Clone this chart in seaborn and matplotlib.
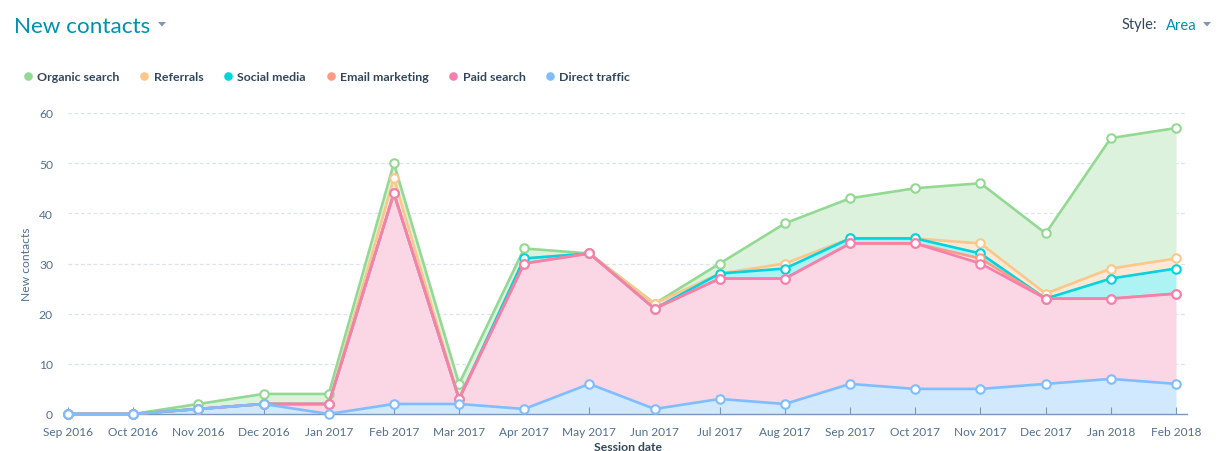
import matplotlib
matplotlib.use('Agg')
import matplotlib.pyplot as plt
from matplotlib.lines import Line2D
from matplotlib.patches import Polygon
import numpy as np
import pandas as pd
import seaborn as sns

months = ['Sep 2016', 'Oct 2016', 'Nov 2016', 'Dec 2016', 'Jan 2017', 'Feb 2017', 'Mar 2017', 'Apr 2017', 'May 2017',
          'Jun 2017', 'Jul 2017', 'Aug 2017', 'Sep 2017', 'Oct 2017', 'Nov 2017', 'Dec 2017', 'Jan 2018', 'Feb 2018']

# contacts per channel
direct_traffic = [0, 0, 1, 2, 0, 2, 2, 1, 6, 1, 3, 2, 6, 5, 5, 6, 7, 6]
paid_search = [0, 0, 0, 0, 2, 42, 1, 29, 26, 20, 24, 25, 28, 29, 25, 17, 16, 18]
email_marketing = [0, 0, 0, 0, 0, 0, 0, 0, 0, 0, 0, 0, 0, 0, 1, 0, 0, 0]
social_media = [0, 0, 0, 0, 0, 0, 0, 1, 0, 0, 1, 2, 1, 1, 1, 0, 4, 5]
referrals = [0, 0, 0, 0, 0, 3, 0, 0, 0, 1, 0, 1, 0, 0, 2, 1, 2, 2]
organic_search = [0, 0, 1, 2, 2, 3, 3, 2, 0, 0, 2, 8, 8, 10, 12, 12, 26, 26]

# bottom of the stack first
series = ['Direct traffic', 'Paid search', 'Email marketing', 'Social media', 'Referrals', 'Organic search']
line_colors = ['#7fbdff', '#f87fab', '#ff9a85', '#00d4dc', '#fdc68a', '#93d993']
fill_colors = ['#d1e9fe', '#fbd6e5', '#ffe3dc', '#aef3f3', '#ffe9d6', '#ddf2dd']

W, H = 1225, 452
TEXT = '#33475b'
MUTED = '#516f90'
TEAL = '#0091ae'


def fx(px):
    return px / W


def fy(px):
    return 1 - px / H


def caret(cx, cy):
    pts = [(fx(cx - 4), fy(cy - 2)), (fx(cx + 4), fy(cy - 2)), (fx(cx), fy(cy + 2.5))]
    fig.add_artist(Polygon(pts, closed=True, color='#7c98b6', linewidth=0, transform=fig.transFigure))


sns.set_theme(style='white')
plt.rcParams['font.family'] = ['Lato', 'DejaVu Sans']

df = pd.DataFrame(
    [direct_traffic, paid_search, email_marketing, social_media, referrals, organic_search],
    index=series,
    columns=range(len(months)),
).T
stacked = df.cumsum(axis=1)

fig = plt.figure(figsize=(W / 100, H / 100), dpi=100)
ax = fig.add_axes([fx(68), fy(415), fx(1187 - 68), fy(114) - fy(415)])

x = stacked.index.values
lower = np.zeros(len(x))
for name, fill in zip(series, fill_colors):
    ax.fill_between(x, lower, stacked[name].values, color=fill, linewidth=0, zorder=1)
    lower = stacked[name].values

# green goes down first so direct traffic sits on top
for name, color in reversed(list(zip(series, line_colors))):
    sns.lineplot(x=x, y=stacked[name].values, ax=ax, color=color, linewidth=1.9, marker='o', markersize=6.1,
                 markerfacecolor='white', markeredgecolor=color, markeredgewidth=1.5, clip_on=False, zorder=3,
                 errorbar=None)

ax.set_xlim(0, (1187 - 68) / ((1176 - 68) / 17))
ax.set_ylim(0, 60)
ax.set_xticks(x)
ax.set_xticklabels(months)
ax.set_yticks([0, 10, 20, 30, 40, 50, 60])
ax.tick_params(axis='x', direction='in', length=5, width=0.8, color='#7c98b6', labelsize=8.6, labelcolor=MUTED, pad=9,
               bottom=True)
ax.tick_params(axis='y', length=0, labelsize=8.7, labelcolor=MUTED, pad=10.8)
ax.grid(axis='y', color='#dbe3ee', linestyle=(0, (3, 2)), linewidth=0.9)
ax.grid(axis='x', visible=False)
ax.yaxis.set_zorder(0.5)
ax.xaxis.set_zorder(1.5)
sns.despine(ax=ax, left=True)
ax.spines['bottom'].set_color('#7c98b6')
ax.spines['bottom'].set_linewidth(1)

ax.set_xlabel('')
ax.set_ylabel('')
fig.text(fx(628), fy(448), 'Session date', ha='center', va='center', fontsize=8.8, fontweight='bold', color=TEXT)
fig.text(fx(27), fy(264), 'New contacts', rotation=90, ha='center', va='center', fontsize=8.7, color=MUTED)

# header
fig.text(fx(14), fy(27), 'New contacts', ha='left', va='center', fontsize=16.2, color=TEAL)
fig.text(fx(1122), fy(25), 'Style:', ha='left', va='center', fontsize=10.5, color=TEXT)
fig.text(fx(1166), fy(26), 'Area', ha='left', va='center', fontsize=10.6, color=TEAL)
caret(162, 25)
caret(1207, 25)

# legend runs the other way round, organic first
handles = [Line2D([], [], marker='o', linestyle='none', markersize=6.2, color=c, markeredgewidth=0)
           for c in reversed(line_colors)]
leg = fig.legend(handles, list(reversed(series)), ncol=6, frameon=False, loc='center left',
                 bbox_to_anchor=(fx(23), fy(78)), fontsize=8.9, handlelength=0.8, handletextpad=0.35,
                 columnspacing=1.6, borderaxespad=0, borderpad=0)
for t in leg.get_texts():
    t.set_color(TEXT)
    t.set_fontweight('bold')

fig.savefig('out.png', dpi=100)
